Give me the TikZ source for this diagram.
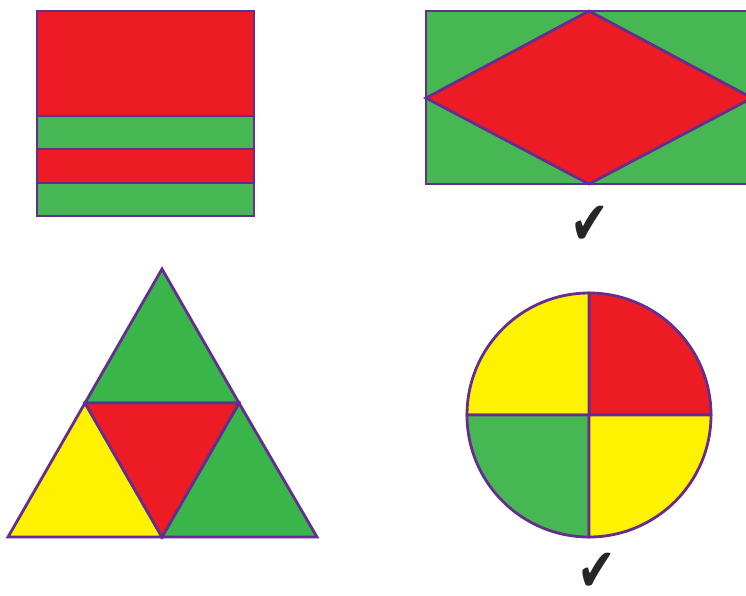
\documentclass[tikz,border=0pt]{standalone}
\usepackage{fontspec}
\usepackage{xcolor}
\usepackage{tikz}
\newfontfamily\symfont{DejaVu Sans}
\definecolor{ShapeRed}{RGB}{237, 28, 36}
\definecolor{ShapeGreen}{RGB}{70, 183, 83}
\definecolor{ShapeGreenDark}{RGB}{57, 181, 74}
\definecolor{ShapeYellow}{RGB}{255, 242, 0}
\definecolor{ShapeEdge}{RGB}{102, 45, 145}
\newcommand{\tallcheck}{\scalebox{1.05}[1.38]{✔}}
\tikzset{
  part/.style={draw=ShapeEdge, line width=2.8pt, line join=miter},
  tick/.style={inner sep=0pt, text=black!85, font=\symfont\fontsize{44}{44}\selectfont}
}

\begin{document}
\begin{tikzpicture}[x=1pt, y=-1pt]
  \useasboundingbox (0,0) rectangle (746,595);
  % striped rectangle
  \filldraw[part, fill=ShapeRed]   (37,11)  rectangle (254,116);
  \filldraw[part, fill=ShapeGreen] (37,116) rectangle (254,149);
  \filldraw[part, fill=ShapeRed]   (37,149) rectangle (254,183);
  \filldraw[part, fill=ShapeGreen] (37,183) rectangle (254,216);
  % rectangle with rhombus
  \begin{scope}
    \clip (0,0) rectangle (746,595);
    \filldraw[part, fill=ShapeGreen] (426,11) rectangle (752,184);
    \filldraw[part, fill=ShapeRed] (426,98) -- (589,11) -- (752,98) -- (589,184) -- cycle;
  \end{scope}
  \node[tick] (tickA) at (590,225) {\tallcheck};
  % divided triangle
  \filldraw[part, fill=ShapeGreenDark] (162,269) -- (239,403) -- (85,403) -- cycle;
  \filldraw[part, fill=ShapeYellow] (85,403) -- (162,537) -- (8,537) -- cycle;
  \filldraw[part, fill=ShapeGreenDark] (239,403) -- (317,537) -- (162,537) -- cycle;
  \filldraw[part, fill=ShapeRed] (85,403) -- (239,403) -- (162,537) -- cycle;
  % circle in quarters
  \filldraw[part, fill=ShapeRed]    (589,415) -- (711,415) arc[start angle=0, end angle=-90, radius=122] -- cycle;
  \filldraw[part, fill=ShapeYellow] (589,415) -- (589,293) arc[start angle=-90, end angle=-180, radius=122] -- cycle;
  \filldraw[part, fill=ShapeGreen]  (589,415) -- (467,415) arc[start angle=-180, end angle=-270, radius=122] -- cycle;
  \filldraw[part, fill=ShapeYellow] (589,415) -- (589,537) arc[start angle=90, end angle=0, radius=122] -- cycle;
  \node[tick] (tickB) at (597,572) {\tallcheck};
\end{tikzpicture}
\end{document}
